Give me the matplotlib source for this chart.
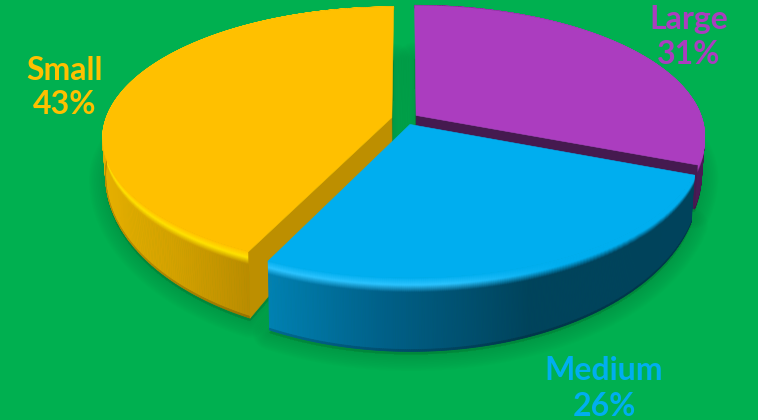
import numpy as np
import matplotlib.pyplot as plt
from matplotlib.collections import PolyCollection
from matplotlib.colors import to_rgb

names = ["Large", "Medium", "Small"]
shares = [31, 26, 43]
top_colors = ["#AB3DBF", "#00AEEF", "#FFC000"]
text_colors = ["#AB3DBF", "#00AEEF", "#FFC000"]
face_colors = ["#451A4F", "#00435C", "#BD8F00"]

# side shading runs left to right across the canvas, as (x, colour) stops
side_stops = [
    [(400, "#4A1A55"), (710, "#4A1A55")],
    [(265, "#0082B4"), (380, "#00618A"), (530, "#00435C"), (700, "#00435C")],
    [(100, "#E6B000"), (180, "#D2A000"), (250, "#BA8C00")],
]
# rim highlight colour and how far it reaches along x
rim_stops = [
    ("#5A2468", 400, 710),
    ("#2CC4FF", 450, 560),
    ("#FFE200", 300, 400),
]
label_pos = [(689, 19, 55), (604, 370, 406), (65, 70, 105)]

CX, CY = 405, 118.8
RX, RY, PERSP = 286, 128, 0.154
EXPLODE = 0.047
RIM = 0.2


def project(u, v, z=0.0):
    # ground plane plus depth z (0 = top face, 1 = underside) to canvas pixels
    w = 1 + PERSP * v
    x = CX + RX * u / w
    y = CY - RY * v / w
    return CX + (x - CX) * (1 - 0.01 * z), y + z * (32 + 0.26 * (y - CY))


def wedge_xy(start, end, offset, z=0.0, n=200):
    t = np.radians(np.linspace(start, end, n))
    return project(offset[0] + np.sin(t), offset[1] + np.cos(t), z)


def rgb(c):
    return np.array(to_rgb(c))


def rim_color(x, z, i):
    stops_x = [s[0] for s in side_stops[i]]
    stops_c = np.array([rgb(s[1]) for s in side_stops[i]])
    side = np.array([np.interp(x, stops_x, stops_c[:, k]) for k in range(3)])
    if z >= RIM:
        # thin darker line along the bottom edge
        return side * (0.82 if z > 0.975 else 1.0)
    hi_color, hi_full, hi_none = rim_stops[i]
    strength = np.clip((hi_none - x) / (hi_none - hi_full), 0, 1)
    top = rgb(top_colors[i])
    hi = top + (rgb(hi_color) - top) * strength
    s = z / RIM
    if s < 0.5:
        return top + (hi - top) * (s / 0.5)
    return hi + (side - hi) * ((s - 0.5) / 0.5)


fig = plt.figure(figsize=(7.58, 4.2), dpi=100, facecolor="#00B050")
ax = fig.add_axes([0, 0, 1, 1])
ax.set_xlim(0, 758)
ax.set_ylim(420, 0)
ax.axis("off")

# wedge angles, clockwise from twelve o'clock
edges = np.cumsum([0] + shares) * 3.6
wedges = []
for i in range(len(shares)):
    mid = np.radians((edges[i] + edges[i + 1]) / 2)
    wedges.append((edges[i], edges[i + 1], (EXPLODE * np.sin(mid), EXPLODE * np.cos(mid))))

# soft shadow under the whole pie, pulled in at the back so the gap stays clear up top
for lw in np.arange(24, 0, -2.5):
    for start, end, offset in wedges:
        bx, by = wedge_xy(start, end, offset, 1.0)
        px, py = project(offset[0], offset[1], 1.0)
        sx, sy = np.r_[bx, px], np.r_[by, py]
        sy = np.where(sy < 180, sy + 0.28 * (180 - sy), sy) + 3
        ax.fill(sx, sy, color="#006A30", alpha=0.03, lw=lw, zorder=1, joinstyle="round")

z_edges = np.r_[np.linspace(0, RIM, 17), np.linspace(RIM, 0.975, 2)[1:], 1.0]

# radial wall that faces the viewer on each wedge (blue has none in view)
wall_angle = {0: edges[1], 2: edges[2]}

# back to front: purple, then yellow, then blue
for i, order in zip([0, 2, 1], [2, 3, 4]):
    start, end, offset = wedges[i]

    polys, cols = [], []
    t = np.radians(np.linspace(start, end, 300))
    for a, b in zip(t[:-1], t[1:]):
        ua, va = offset[0] + np.sin(a), offset[1] + np.cos(a)
        ub, vb = offset[0] + np.sin(b), offset[1] + np.cos(b)
        for z0, z1 in zip(z_edges[:-1], z_edges[1:]):
            polys.append([project(ua, va, z0), project(ub, vb, z0),
                          project(ub, vb, z1), project(ua, va, z1)])
            cols.append(rim_color(polys[-1][0][0], (z0 + z1) / 2, i))
    ax.add_collection(PolyCollection(polys, facecolors=cols, edgecolors=cols,
                                     linewidths=0.6, zorder=order))

    if i in wall_angle:
        wall = np.radians(wall_angle[i])
        ou, ov = offset[0] + np.sin(wall), offset[1] + np.cos(wall)
        pts = [project(offset[0], offset[1], 0), project(ou, ov, 0),
               project(ou, ov, 1), project(offset[0], offset[1], 1)]
        ax.fill(*zip(*pts), color=face_colors[i], lw=0.4, zorder=order)

    tx, ty = wedge_xy(start, end, offset, 0.0)
    ax0, ay0 = project(offset[0], offset[1], 0)
    ax.fill(np.r_[ax0, tx], np.r_[ay0, ty], color=top_colors[i], lw=0.4, zorder=order)

for name, share, color, (x, y1, y2) in zip(names, shares, text_colors, label_pos):
    ax.text(x, y1, name, color=color, ha="center", va="center",
            fontfamily="Lato", fontweight="bold", fontsize=23, zorder=6)
    ax.text(x, y2, f"{share}%", color=color, ha="center", va="center",
            fontfamily="Lato", fontweight="bold", fontsize=23, zorder=6)

fig.savefig("out.png", dpi=100, facecolor=fig.get_facecolor())
